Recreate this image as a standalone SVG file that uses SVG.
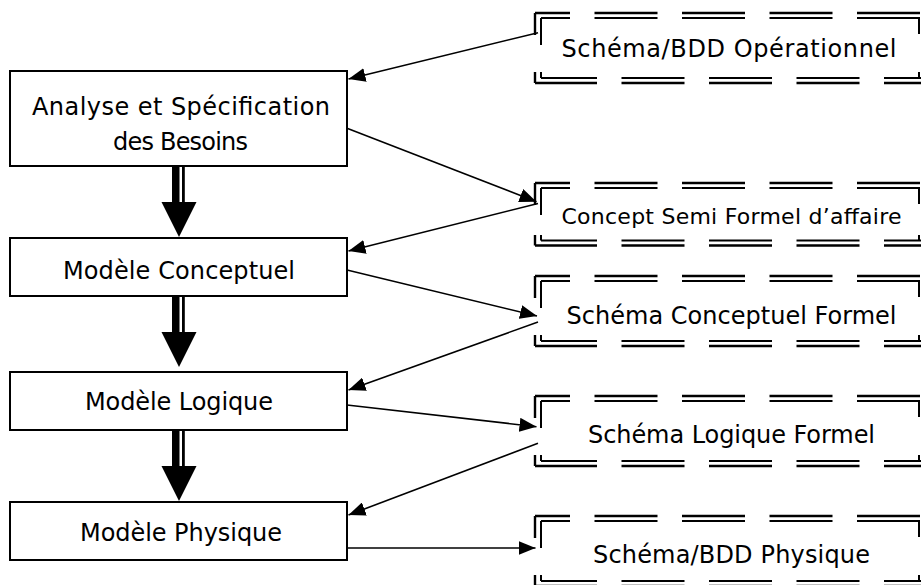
<svg xmlns="http://www.w3.org/2000/svg" width="921" height="585" viewBox="0 0 921 585">
  <style>
    .box { fill: #ffffff; stroke: #000000; stroke-width: 2; }
    .lbl { font-family: "DejaVu Sans", "Liberation Sans", sans-serif; font-size: 24px; fill: #000000; text-anchor: middle; }
    .lbl.small { font-size: 22px; }
    .dash-o { fill: none; stroke: #000000; stroke-width: 2.4; stroke-dasharray: 63 24.5; }
    .dash-i { fill: none; stroke: #000000; stroke-width: 2; stroke-dasharray: 63 24.5; }
    .solid-o { fill: none; stroke: #000000; stroke-width: 2.4; }
    .solid-i { fill: none; stroke: #000000; stroke-width: 2; }
    .conn line { stroke: #000000; stroke-width: 1.6; marker-end: url(#arrow); }
    .flow { fill: #000000; }
  </style>
  <defs>
    <marker id="arrow" markerUnits="userSpaceOnUse" markerWidth="18" markerHeight="14" refX="17" refY="7" orient="auto">
      <path d="M0,0 L17,7 L0,14 Z" fill="#000000"/>
    </marker>
    <!-- double dashed frame, outer corner at (0,0) -->
    <g id="frame">
      <path class="dash-o" d="M0,0 H392" stroke-dashoffset="28"/>
      <path class="dash-i" d="M6,5 H386" stroke-dashoffset="34"/>
      <path class="dash-o" d="M0,70 H392" stroke-dashoffset="1"/>
      <path class="dash-i" d="M6,65 H386" stroke-dashoffset="7"/>
      <path class="solid-o" d="M0,0 V22 M0,59 V70"/>
      <path class="solid-i" d="M6,5 V32 M6,59 V65"/>
      <path class="solid-i" d="M384,5 V21 M384,59 V65"/>
    </g>
    <g id="frame-short">
      <path class="dash-o" d="M0,0 H392" stroke-dashoffset="28"/>
      <path class="dash-i" d="M6,5 H386" stroke-dashoffset="34"/>
      <path class="dash-o" d="M0,62.5 H392" stroke-dashoffset="1"/>
      <path class="dash-i" d="M6,57.5 H386" stroke-dashoffset="7"/>
      <path class="solid-o" d="M0,0 V22 M0,52 V62.5"/>
      <path class="solid-i" d="M6,5 V32 M6,52 V57.5"/>
      <path class="solid-i" d="M384,5 V21 M384,52 V57.5"/>
    </g>
  </defs>

  <rect width="921" height="585" fill="#ffffff"/>

  <!-- process steps -->
  <g id="analyse">
    <rect class="box" x="10" y="71" width="337" height="95"/>
    <text class="lbl" x="181" y="115" textLength="298">Analyse et Spécification</text>
    <text class="lbl" x="180.5" y="150" textLength="135">des Besoins</text>
  </g>
  <g id="modele-conceptuel">
    <rect class="box" x="10" y="238" width="337" height="58"/>
    <text class="lbl" x="179" y="278.5" textLength="232">Modèle Conceptuel</text>
  </g>
  <g id="modele-logique">
    <rect class="box" x="10" y="372" width="337" height="58"/>
    <text class="lbl" x="179" y="410" textLength="188">Modèle Logique</text>
  </g>
  <g id="modele-physique">
    <rect class="box" x="10" y="502" width="337" height="58"/>
    <text class="lbl" x="181" y="541" textLength="202">Modèle Physique</text>
  </g>

  <!-- produced artefacts -->
  <g id="bdd-operationnel">
    <use href="#frame" x="535" y="13"/>
    <text class="lbl" x="729" y="57" textLength="335">Schéma/BDD Opérationnel</text>
  </g>
  <g id="concept-semi-formel">
    <use href="#frame-short" x="535" y="183"/>
    <text class="lbl small" x="731.5" y="223.5" textLength="340">Concept Semi Formel d’affaire</text>
  </g>
  <g id="schema-conceptuel">
    <use href="#frame" x="535" y="276"/>
    <text class="lbl" x="731.5" y="323.5" textLength="330">Schéma Conceptuel Formel</text>
  </g>
  <g id="schema-logique">
    <use href="#frame" x="535" y="396"/>
    <text class="lbl" x="731.5" y="443" textLength="287">Schéma Logique Formel</text>
  </g>
  <g id="bdd-physique">
    <use href="#frame" x="535" y="516"/>
    <text class="lbl" x="731.5" y="563" textLength="277">Schéma/BDD Physique</text>
  </g>

  <!-- connectors -->
  <g id="connectors">
    <g class="flow">
      <rect x="172" y="166" width="7.5" height="36"/>
      <rect x="182" y="166" width="2.8" height="36"/>
      <path d="M161.5,202 L196.5,202 L179,237 Z"/>
      <rect x="172" y="296" width="7.5" height="36"/>
      <rect x="182" y="296" width="2.8" height="36"/>
      <path d="M161.5,332 L196.5,332 L179,367 Z"/>
      <rect x="172" y="430" width="7.5" height="36"/>
      <rect x="182" y="430" width="2.8" height="36"/>
      <path d="M161.5,466 L196.5,466 L179,501 Z"/>
    </g>
    <g class="conn">
      <line x1="538" y1="32.7" x2="348.5" y2="79"/>
      <line x1="347" y1="128.3" x2="536.5" y2="201.7"/>
      <line x1="538" y1="203.5" x2="348.5" y2="251"/>
      <line x1="347" y1="270" x2="537" y2="316"/>
      <line x1="538" y1="322" x2="348.5" y2="390"/>
      <line x1="347" y1="405" x2="536.5" y2="426.7"/>
      <line x1="538" y1="443.3" x2="348.5" y2="515"/>
      <line x1="347" y1="548" x2="535.5" y2="548"/>
    </g>
  </g>
</svg>
